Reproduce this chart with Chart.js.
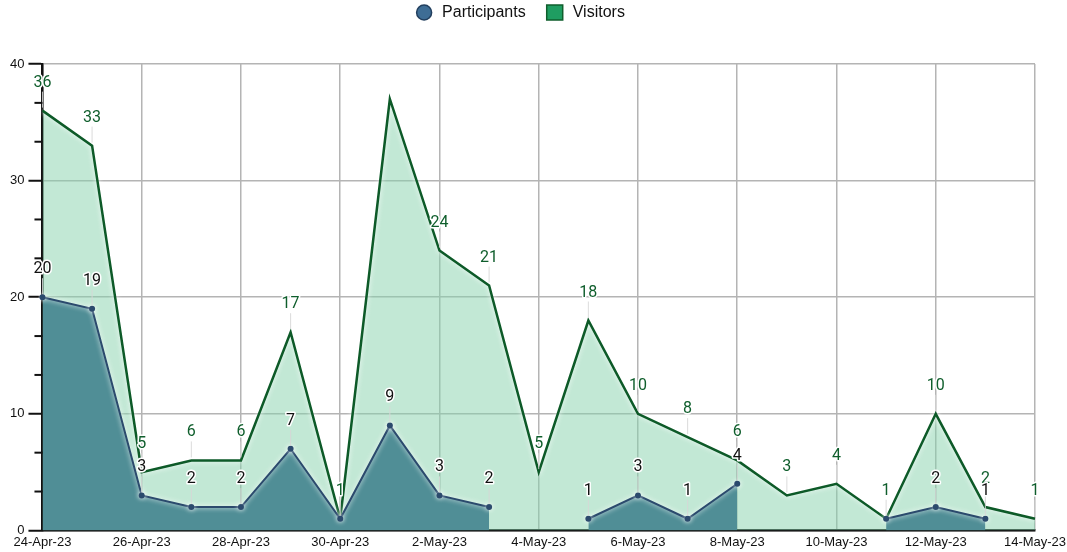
<!DOCTYPE html>
<html>
<head>
<meta charset="utf-8">
<script src="https://cdn.jsdelivr.net/npm/chart.js@4.4.0/dist/chart.umd.min.js"></script>
<style>
  html, body { margin: 0; padding: 0; background: #fff; }
</style>
</head>
<body>
<canvas id="myChart" width="1067" height="552"></canvas>
<script>
let days = ['24-Apr-23', '25-Apr-23', '26-Apr-23', '27-Apr-23', '28-Apr-23', '29-Apr-23', '30-Apr-23',
  '1-May-23', '2-May-23', '3-May-23', '4-May-23', '5-May-23', '6-May-23', '7-May-23', '8-May-23',
  '9-May-23', '10-May-23', '11-May-23', '12-May-23', '13-May-23', '14-May-23'];
let participants = [20, 19, 3, 2, 2, 7, 1, 9, 3, 2, null, 1, 3, 1, 4, null, null, 1, 2, 1, null];
let visitors = [36, 33, 5, 6, 6, 17, 1, 37, 24, 21, 5, 18, 10, 8, 6, 3, 4, 1, 10, 2, 1];
let seriesNames = ['Participants', 'Visitors'];
let yMin = 0;
let yMax = 40;
let yStep = 10;
let yMinorStep = 10 / 3;

let labelFont = '16px Roboto';
let axisFont = { family: 'Liberation Sans', size: 13 };

// legend drawn by hand so spacing matches
let topLegend = {
  id: 'topLegend',
  afterDraw(chart) {
    let ctx = chart.ctx;
    ctx.save();
    ctx.font = '16px "Liberation Sans"';
    ctx.textBaseline = 'middle';
    ctx.textAlign = 'left';
    let w1 = ctx.measureText(seriesNames[0]).width;
    let w2 = ctx.measureText(seriesNames[1]).width;
    let total = 16 + 10 + w1 + 21 + 17 + 9 + w2;
    let x = chart.width / 2 - total / 2 - 13;
    let cy = 12.5;
    ctx.beginPath();
    ctx.arc(x + 8, cy, 7.5, 0, Math.PI * 2);
    ctx.fillStyle = '#3e6d95';
    ctx.fill();
    ctx.lineWidth = 1.5;
    ctx.strokeStyle = '#223f5e';
    ctx.stroke();
    x += 16 + 10;
    ctx.fillStyle = '#111';
    ctx.fillText(seriesNames[0], x, cy);
    x += w1 + 21;
    ctx.fillStyle = '#1f9d61';
    ctx.strokeStyle = '#0f5e2c';
    ctx.fillRect(x, cy - 7.5, 16, 15);
    ctx.strokeRect(x, cy - 7.5, 16, 15);
    x += 17 + 9;
    ctx.fillStyle = '#111';
    ctx.fillText(seriesNames[1], x, cy);
    ctx.restore();
  }
};

// white glow under the lines
let glow = {
  id: 'glow',
  beforeDatasetDraw(chart) {
    chart.ctx.save();
    chart.ctx.shadowColor = 'rgba(255,255,255,0.95)';
    chart.ctx.shadowBlur = 5;
  },
  afterDatasetDraw(chart) {
    chart.ctx.restore();
  }
};

// short minor ticks on the y axis
let minorTicks = {
  id: 'minorTicks',
  afterDraw(chart) {
    let ctx = chart.ctx;
    let yScale = chart.scales.y;
    let left = chart.chartArea.left;
    ctx.save();
    ctx.strokeStyle = '#111';
    ctx.lineWidth = 2;
    for (let v = yMin; v <= yMax + 0.001; v += yMinorStep) {
      let r = Math.round(v / yStep) * yStep;
      if (Math.abs(v - r) < 0.01) continue;
      let y = yScale.getPixelForValue(v);
      ctx.beginPath();
      ctx.moveTo(left - 8, y);
      ctx.lineTo(left, y);
      ctx.stroke();
    }
    ctx.restore();
  }
};

// value labels with a thin leader line
let valueLabels = {
  id: 'valueLabels',
  afterDatasetsDraw(chart) {
    let ctx = chart.ctx;
    let area = chart.chartArea;
    let drawn = {};
    let order = [1, 0];
    let colors = ['#111', '#0f5e2c'];
    ctx.save();
    ctx.font = labelFont;
    ctx.textAlign = 'center';
    ctx.textBaseline = 'middle';
    order.forEach(function (di) {
      let meta = chart.getDatasetMeta(di);
      let data = chart.data.datasets[di].data;
      meta.data.forEach(function (pt, i) {
        if (data[i] === null) return;
        let x = pt.x;
        let y = pt.y;
        let ly = y - 28;
        if (ly - 8 < area.top) return;
        if (drawn[i] !== undefined && Math.abs(drawn[i] - ly) < 8) return;
        drawn[i] = ly;
        ctx.strokeStyle = 'rgba(215,215,215,0.9)';
        ctx.lineWidth = 1;
        ctx.beginPath();
        ctx.moveTo(x, ly + 9);
        ctx.lineTo(x, y - 3);
        ctx.stroke();
        ctx.strokeStyle = '#fff';
        ctx.lineWidth = 3;
        ctx.lineJoin = 'round';
        ctx.strokeText(String(data[i]), x, ly);
        ctx.fillStyle = colors[di];
        ctx.fillText(String(data[i]), x, ly);
      });
    });
    ctx.restore();
  }
};

let ctx = document.getElementById('myChart').getContext('2d');
let myChart = new Chart(ctx, {
  type: 'line',
  data: {
    labels: days,
    datasets: [{
      label: seriesNames[0],
      data: participants,
      borderColor: '#2b4a6d',
      backgroundColor: 'rgb(80,142,150)',
      borderWidth: 2,
      fill: 'origin',
      spanGaps: false,
      pointRadius: 3,
      pointBackgroundColor: '#2b4a6d',
      pointBorderWidth: 0,
      tension: 0
    }, {
      label: seriesNames[1],
      data: visitors,
      borderColor: '#0d5a28',
      backgroundColor: 'rgba(133,209,172,0.5)',
      borderWidth: 2.5,
      fill: 'origin',
      pointRadius: 0,
      tension: 0
    }]
  },
  options: {
    responsive: false,
    animation: false,
    layout: {
      padding: { left: 6, right: 0, top: 64, bottom: -2 }
    },
    plugins: {
      tooltip: { enabled: false },
      legend: { display: false }
    },
    scales: {
      x: {
        offset: false,
        afterFit: function (scale) { scale.paddingRight = 32; },
        grid: {
          color: function (c) { return c.index % 2 === 0 ? '#b4b4b4' : 'rgba(0,0,0,0)'; },
          lineWidth: 1.5,
          drawTicks: false
        },
        border: { color: '#111', width: 2.5 },
        ticks: {
          autoSkip: false,
          maxRotation: 0,
          padding: 4,
          color: '#111',
          font: axisFont,
          callback: function (v, i) { return i % 2 === 0 ? days[i] : ''; }
        }
      },
      y: {
        min: yMin,
        max: yMax,
        grid: {
          color: '#b4b4b4',
          lineWidth: 1.5,
          tickColor: '#111',
          tickLength: 14,
          tickWidth: 2
        },
        border: { color: '#111', width: 2.5 },
        ticks: {
          stepSize: yStep,
          padding: 4,
          color: '#111',
          font: axisFont
        }
      }
    }
  },
  plugins: [topLegend, glow, minorTicks, valueLabels]
});
</script>
</body>
</html>
